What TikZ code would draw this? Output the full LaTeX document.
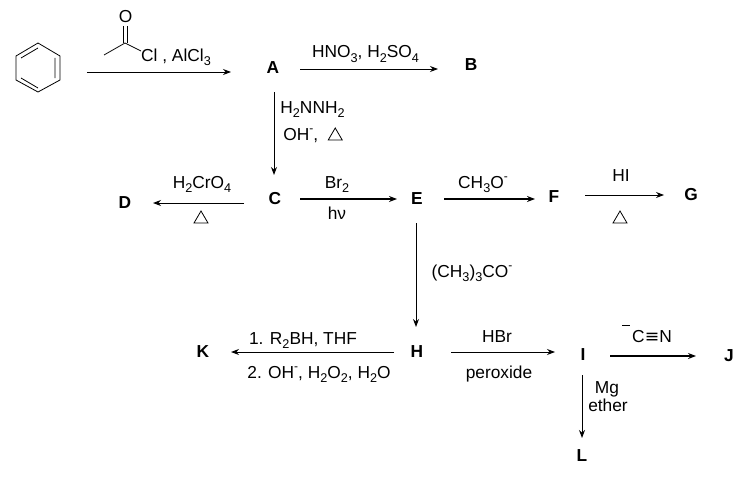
\documentclass[tikz,border=0pt]{standalone}
\usepackage{fontspec}
\setmainfont{Liberation Sans}
\newfontfamily\symfont{DejaVu Sans}
\newcommand{\sbs}[1]{\raisebox{-0.28em}{\fontsize{9.5}{10}\selectfont #1}}
\newcommand{\spr}[1]{\raisebox{0.42em}{\fontsize{9}{10}\selectfont #1}}
\newcommand{\dlt}{\tikz[baseline=0pt,x=0.75pt,y=0.75pt]\draw[line width=0.6pt] (0,0)--(14,0)--(7,12)--cycle;}
\usetikzlibrary{arrows.meta}
\tikzset{
  cmp/.style={font=\fontsize{13}{15}\selectfont\bfseries,inner sep=0pt},
  lbl/.style={font=\fontsize{13}{15}\selectfont,inner sep=0pt,anchor=base},
  arr/.style={line width=0.75pt,-{Stealth[length=6pt,width=4.5pt]}},
  thick arr/.style={line width=1.4pt,-{Stealth[length=6pt,width=4.5pt]}},
  bond/.style={line width=0.6pt},
}
\begin{document}
\begin{tikzpicture}[x=0.75pt,y=-0.75pt]
\useasboundingbox (0,0) rectangle (755,478);
% benzene
\coordinate (b1) at (38,43);
\coordinate (b2) at (60,56);
\coordinate (b3) at (60,80);
\coordinate (b4) at (38,92);
\coordinate (b5) at (16,80);
\coordinate (b6) at (16,56);
\draw[bond] (b1)--(b2)--(b3)--(b4)--(b5)--(b6)--cycle;
\draw[bond] (21,58)--(38,48) (55,58)--(55,78) (21,78)--(38,88);
% acetyl chloride
\node[lbl] (O) at (125.5,23) {O};
\node[lbl] (Cl) at (176,61) {Cl , AlCl\sbs{3}};
\coordinate (co) at (125,43);
\coordinate (me) at (104,55);
\draw[bond] (me)--(co)--(141,51);
\draw[bond] (123.5,26)--(123.5,43) (127,26)--(127,43);
% compounds
\node[cmp] (Ben) at (86,72) {};
\node[cmp] (A) at (273,68) {A};
\node[cmp] (B) at (471,65) {B};
\node[cmp] (C) at (275,199) {C};
\node[cmp] (D) at (125,203) {D};
\node[cmp] (E) at (417,199) {E};
\node[cmp] (F) at (554,197) {F};
\node[cmp] (G) at (691,195) {G};
\node[cmp] (H) at (417,352) {H};
\node[cmp] (I) at (583,355) {I};
\node[cmp] (J) at (729,356) {J};
\node[cmp] (K) at (203,352) {K};
\node[cmp] (L) at (582,456) {L};
% arrows
\draw[arr] (Ben) -- ([shift={(-42,4)}]A.center);
\draw[arr] ([shift={(27,1)}]A.center) -- ([shift={(-33,4)}]B.center);
\draw[arr] ([shift={(1,24)}]A.center) -- ([shift={(-1,-24)}]C.center);
\draw[arr] ([shift={(-31,4)}]C.center) -- ([shift={(28,0)}]D.center);
\draw[thick arr] ([shift={(25,0)}]C.center) -- ([shift={(-20,0)}]E.center);
\draw[thick arr] ([shift={(27,0)}]E.center) -- ([shift={(-19,2)}]F.center);
\draw[arr] ([shift={(31,-2)}]F.center) -- ([shift={(-27,0)}]G.center);
\draw[arr] ([shift={(-1,24)}]E.center) -- ([shift={(-1,-25)}]H.center);
\draw[arr] ([shift={(-23,0)}]H.center) -- ([shift={(28,0)}]K.center);
\draw[arr] ([shift={(34,0)}]H.center) -- ([shift={(-28,-3)}]I.center);
\draw[thick arr] ([shift={(27,1)}]I.center) -- ([shift={(-33,0)}]J.center);
\draw[arr] ([shift={(-1,20)}]I.center) -- ([shift={(0,-18)}]L.center);
% labels
\node[lbl] (l1) at (365.5,58) {HNO\sbs{3}, H\sbs{2}SO\sbs{4}};
\node[lbl] (l2) at (312.5,113) {H\sbs{2}NNH\sbs{2}};
\node[lbl] (l3) at (313,140) {OH\spr{-}, \ \dlt};
\node[lbl] (l4) at (202,188) {H\sbs{2}CrO\sbs{4}};
\node[lbl] (l5) at (201,223) {\dlt};
\node[lbl] (l6) at (337,188) {Br\sbs{2}};
\node[lbl] (l7) at (337,219) {hν};
\node[lbl] (l8) at (483,188) {CH\sbs{3}O\spr{-}};
\node[lbl] (l9) at (621,181) {HI};
\node[lbl] (l10) at (620,223) {\dlt};
\node[lbl] (l11) at (472,277) {(CH\sbs{3})\sbs{3}CO\spr{-}};
\node[lbl] (l12) at (303,344) {1. R\sbs{2}BH, THF};
\node[lbl] (l13) at (319,378) {2. OH\spr{-}, H\sbs{2}O\sbs{2}, H\sbs{2}O};
\node[lbl] (l14) at (497,342) {HBr};
\node[lbl] (l15) at (499,378) {peroxide};
\node[lbl] (l16) at (652,342) {C{\symfont ≡}N};
\node[lbl] (l17) at (607,393) {Mg};
\node[lbl] (l18) at (608,411) {ether};
\draw[bond] (622,325)--(630,325);
\end{tikzpicture}
\end{document}
